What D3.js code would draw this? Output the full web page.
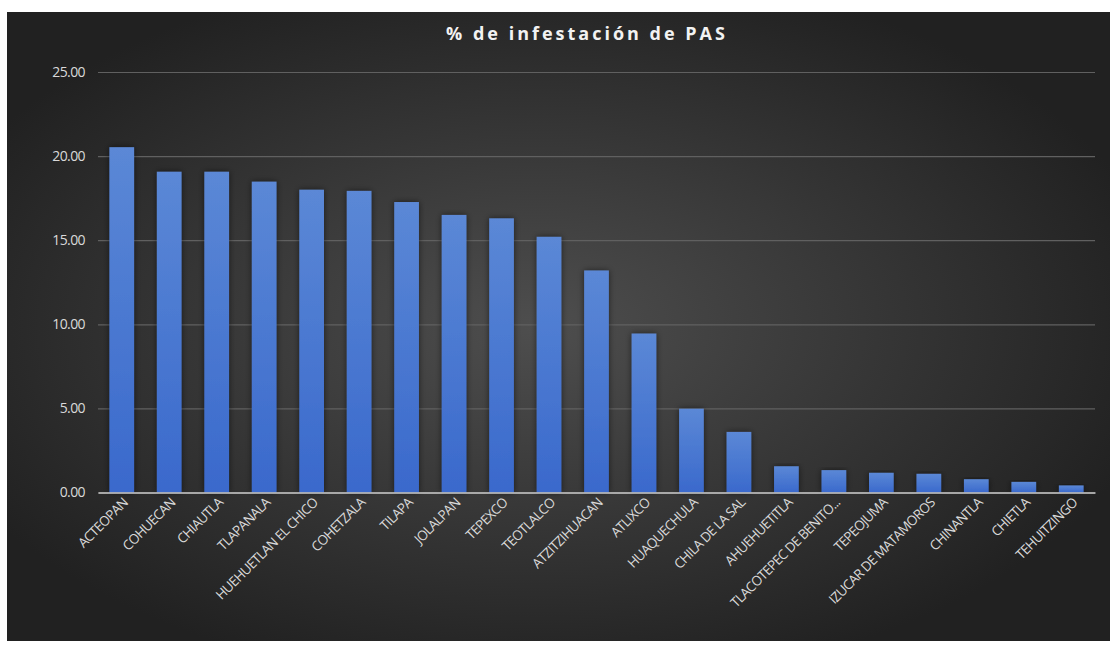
<!DOCTYPE html>
<html><head><meta charset="utf-8">
<script src="https://cdn.jsdelivr.net/npm/d3@7"></script>
<style>html,body{margin:0;padding:0;background:#fff;}svg{display:block;}</style>
</head><body>
<svg id="c" width="1117" height="645"></svg>
<script>
const categories = ["ACTEOPAN","COHUECAN","CHIAUTLA","TLAPANALA","HUEHUETLAN EL CHICO","COHETZALA","TILAPA","JOLALPAN","TEPEXCO","TEOTLALCO","ATZITZIHUACAN","ATLIXCO","HUAQUECHULA","CHILA DE LA SAL","AHUEHUETITLA","TLACOTEPEC DE BENITO...","TEPEOJUMA","IZUCAR DE MATAMOROS","CHINANTLA","CHIETLA","TEHUITZINGO"];
const values = [20.53,19.07,19.07,18.48,18.0,17.93,17.27,16.5,16.3,15.2,13.2,9.45,4.98,3.6,1.56,1.33,1.17,1.11,0.79,0.63,0.42];
const yTicks = [0,5,10,15,20,25];
const title = "% de infestación de PAS";

const svg = d3.select("#c");
const defs = svg.append("defs");
const bg = defs.append("radialGradient").attr("id","bg").attr("cx","48%").attr("cy","50%").attr("r","58%");
bg.append("stop").attr("offset","0%").attr("stop-color","#4e4e4e");
bg.append("stop").attr("offset","100%").attr("stop-color","#212121");
const bar = defs.append("linearGradient").attr("id","bar").attr("x1",0).attr("y1",0).attr("x2",0).attr("y2",1);
bar.append("stop").attr("offset","0%").attr("stop-color","#5b88d6");
bar.append("stop").attr("offset","100%").attr("stop-color","#3a69cc");
const sh = defs.append("filter").attr("id","sh").attr("x","-30%").attr("y","-10%").attr("width","160%").attr("height","120%");
sh.append("feDropShadow").attr("dx",0).attr("dy",0).attr("stdDeviation",3).attr("flood-color","#000").attr("flood-opacity",0.55);

svg.append("rect").attr("x",7).attr("y",12).attr("width",1103).attr("height",629).attr("fill","url(#bg)");

const x = d3.scaleBand().domain(categories).range([98,1095]).paddingInner(0.48).paddingOuter(0.24);
const y = d3.scaleLinear().domain([0,25]).range([492.5,72]);

svg.append("text").attr("x",587).attr("y",40).attr("text-anchor","middle")
  .attr("fill","#f2f2f2").attr("font-family","'Open Sans',sans-serif").attr("font-weight","bold")
  .attr("font-size",18).attr("letter-spacing","3px").text(title);

const yAxis = d3.axisLeft(y).tickValues(yTicks).tickFormat(d3.format(".2f")).tickSize(-(1095-98)).tickPadding(13);
const gy = svg.append("g").attr("transform","translate(98,0)").call(yAxis);
gy.select(".domain").remove();
gy.selectAll(".tick line").attr("stroke","#606060").attr("stroke-width",1.2);
gy.selectAll(".tick text").attr("fill","#d9d9d9").attr("font-size",14).attr("letter-spacing","-0.6px").attr("font-family","'Open Sans',sans-serif");

svg.append("g").selectAll("rect").data(values).join("rect")
  .attr("x",(d,i)=>x(categories[i])).attr("width",x.bandwidth())
  .attr("y",d=>y(d)).attr("height",d=>y(0)-y(d))
  .attr("fill","url(#bar)").attr("filter","url(#sh)");

const xAxis = d3.axisBottom(x).tickSize(0).tickPadding(8);
const gx = svg.append("g").attr("transform",`translate(0,${y(0)})`).call(xAxis);
gx.select(".domain").attr("stroke","#c8c8c8").attr("stroke-width",1.5);
gx.selectAll(".tick text").attr("fill","#d9d9d9").attr("font-size",13.5).attr("font-family","'Open Sans',sans-serif")
  .attr("text-anchor","end").attr("dy","0.35em").attr("transform","translate(-2,2) rotate(-45)")
  .attr("letter-spacing","-0.7px");
</script>
</body></html>
